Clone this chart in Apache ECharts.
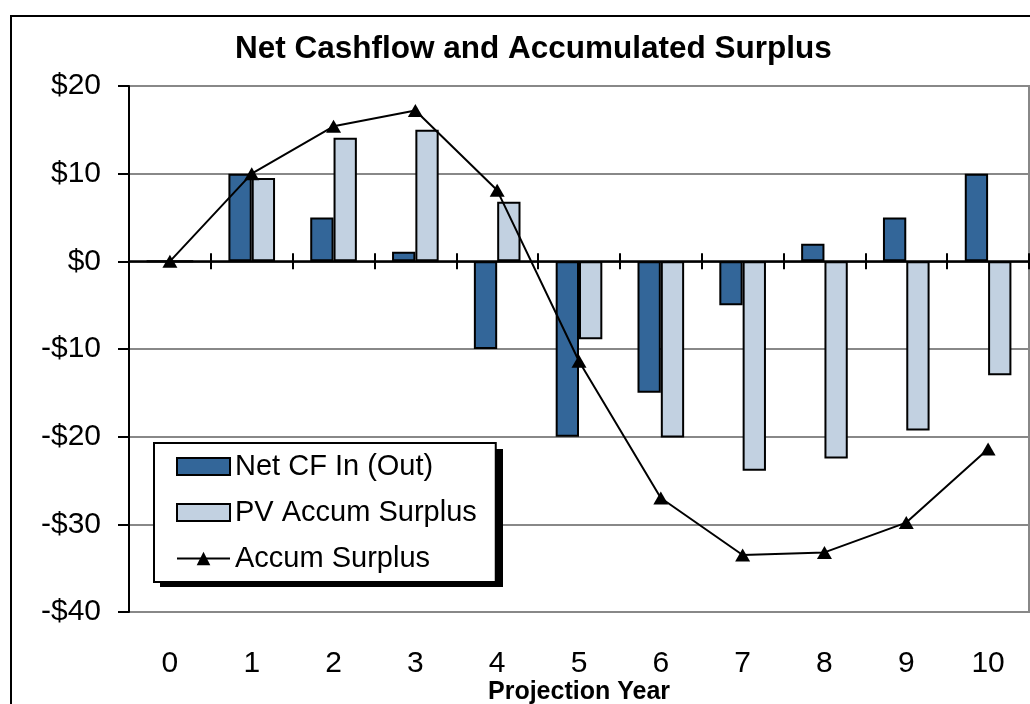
<!DOCTYPE html>
<html>
<head>
<meta charset="utf-8">
<script src="https://cdn.jsdelivr.net/npm/echarts@6/dist/echarts.min.js"></script>
<style>
  html, body { margin: 0; padding: 0; background: #fff; }
  #chart { width: 1030px; height: 704px; }
</style>
</head>
<body>
<div id="chart"></div>
<script>
const years = ['0', '1', '2', '3', '4', '5', '6', '7', '8', '9', '10'];
const netCF = [0, 10, 5, 1.1, -10, -20, -15, -5, 2, 5, 10];
const pvAccumSurplus = [0, 9.5, 14.1, 15, 6.8, -8.9, -20.1, -23.9, -22.5, -19.3, -13];
const accumSurplus = [0, 10, 15.4, 17.2, 8.1, -11.4, -27, -33.5, -33.2, -29.8, -21.4];

const font = '"Liberation Sans", Arial, sans-serif';
const gridColor = '#888888';

const chart = echarts.init(document.getElementById('chart'));

const option = {
    animation: false,
    backgroundColor: '#fff',
    textStyle: { fontFamily: font, color: '#000' },
    title: {
        text: 'Net Cashflow and Accumulated Surplus',
        left: 230,
        top: 28,
        textStyle: { fontFamily: font, fontSize: 31.5, fontWeight: 'bold', color: '#000' }
    },
    graphic: [
        {
            // outer chart frame
            type: 'rect',
            shape: { x: 11, y: 16, width: 1200, height: 900 },
            style: { fill: null, stroke: '#000', lineWidth: 2 },
            silent: true
        },
        {
            // legend drop shadow
            type: 'rect',
            z: 3,
            shape: { x: 160, y: 449, width: 343, height: 138 },
            style: { fill: '#000' },
            silent: true
        }
    ],
    legend: {
        orient: 'vertical',
        left: 154,
        top: 443,
        z: 10,
        padding: [9, 19, 9, 22],
        itemWidth: 53,
        itemHeight: 17,
        itemGap: 17,
        backgroundColor: '#fff',
        borderColor: '#000',
        borderWidth: 2,
        textStyle: { fontFamily: font, fontSize: 29, color: '#000' },
        data: [
            { name: 'Net CF In (Out)', icon: 'rect' },
            { name: 'PV Accum Surplus', icon: 'rect' },
            { name: 'Accum Surplus' }
        ]
    },
    grid: {
        left: 129,
        right: 1,
        top: 86,
        bottom: 92,
        outerBoundsMode: 'none',
        containLabel: false,
        show: true,
        borderColor: gridColor,
        borderWidth: 2,
        backgroundColor: 'transparent'
    },
    xAxis: [
        {
            type: 'category',
            data: years,
            position: 'bottom',
            axisLine: { onZero: true, onZeroAxisIndex: 0, lineStyle: { color: '#000', width: 2.5 } },
            axisTick: { show: true, length: 8, lineStyle: { color: '#000', width: 2 } },
            axisLabel: { show: false },
            splitLine: { show: false }
        },
        {
            type: 'category',
            data: years,
            position: 'bottom',
            axisLine: { show: false, onZero: true, onZeroAxisIndex: 0 },
            axisTick: { show: true, inside: true, length: 8, lineStyle: { color: '#000', width: 2 } },
            axisLabel: { show: false },
            splitLine: { show: false }
        },
        {
            type: 'category',
            data: years,
            position: 'bottom',
            axisLine: { show: false, onZero: false },
            axisTick: { show: false },
            axisLabel: { show: true, fontFamily: font, fontSize: 30, color: '#000', margin: 37 },
            name: 'Projection Year',
            nameLocation: 'middle',
            nameGap: 68,
            nameMoveOverlap: false,
            nameTextStyle: { fontFamily: font, fontSize: 25, fontWeight: 'bold', color: '#000' },
            splitLine: { show: false }
        }
    ],
    yAxis: {
        type: 'value',
        min: -40,
        max: 20,
        interval: 10,
        axisLine: { show: true, lineStyle: { color: '#000', width: 2 } },
        axisTick: { show: true, length: 11, lineStyle: { color: '#000', width: 2 } },
        axisLabel: {
            fontFamily: font,
            fontSize: 30,
            color: '#000',
            margin: 28,
            formatter: v => (v < 0 ? '-$' + Math.abs(v) : '$' + v)
        },
        splitLine: { show: true, lineStyle: { color: gridColor, width: 2 } }
    },
    series: [
        {
            name: 'Net CF In (Out)',
            type: 'bar',
            xAxisIndex: 0,
            data: netCF,
            barGap: '0%',
            barCategoryGap: '43%',
            itemStyle: { color: '#336699', borderColor: '#000', borderWidth: 2 }
        },
        {
            name: 'PV Accum Surplus',
            type: 'bar',
            xAxisIndex: 0,
            data: pvAccumSurplus,
            barGap: '0%',
            barCategoryGap: '43%',
            itemStyle: { color: '#C2D1E1', borderColor: '#000', borderWidth: 2 }
        },
        {
            name: 'Accum Surplus',
            type: 'line',
            xAxisIndex: 0,
            data: accumSurplus,
            symbol: 'triangle',
            symbolSize: [15, 13],
            showAllSymbol: true,
            z: 5,
            lineStyle: { color: '#000', width: 2 },
            itemStyle: { color: '#000' }
        }
    ]
};

chart.setOption(option);
window.addEventListener('resize', () => chart.resize());
</script>
</body>
</html>
